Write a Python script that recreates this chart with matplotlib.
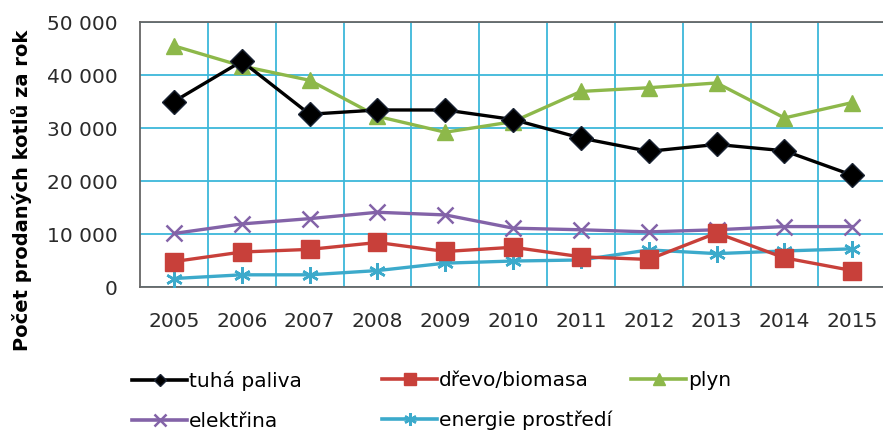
import matplotlib
matplotlib.use("Agg")
import matplotlib.pyplot as plt
from matplotlib.lines import Line2D
from matplotlib.ticker import FuncFormatter

plt.rcParams['font.family'] = ['DejaVu Sans']

# roky a prodeje kotlů podle druhu paliva
years = ['2005', '2006', '2007', '2008', '2009', '2010', '2011', '2012', '2013', '2014', '2015']
tuha_paliva = [35000, 42600, 32600, 33400, 33400, 31600, 28100, 25600, 26900, 25700, 21100]
drevo_biomasa = [4800, 6600, 7100, 8400, 6700, 7500, 5700, 5200, 10200, 5500, 3100]
plyn = [45500, 41700, 39000, 32200, 29200, 31200, 36900, 37600, 38500, 31900, 34800]
elektrina = [10100, 11900, 12900, 14100, 13600, 11100, 10800, 10400, 10800, 11400, 11400]
energie_prostredi = [1600, 2300, 2300, 3100, 4500, 4900, 5100, 7000, 6300, 6800, 7200]

series = [
    ('tuhá paliva', tuha_paliva, 'black', 'D', 12, 6),
    ('dřevo/biomasa', drevo_biomasa, '#C8403A', 's', 12.5, 9),
    ('plyn', plyn, '#8DB84A', '^', 12, 8),
    ('elektřina', elektrina, '#8363A8', 'x', 12, 9),
    ('energie prostředí', energie_prostredi, '#3CAACB', (6, 2, 0), 12, 9),
]

fig = plt.figure(figsize=(8.83, 4.34), dpi=100)
ax = fig.add_axes([0.1586, 0.3387, 0.845, 0.6106])

x = range(len(years))
proxies = []
for i, (name, vals, col, mk, ms, lms) in enumerate(series):
    mew = 1.8 if mk in ('x', (6, 2, 0)) else 1.0
    mec = '#1a2333' if col == 'black' else col
    ax.plot(x, vals, color=col, lw=2.4, marker=mk, ms=ms, mew=mew, mec=mec,
            zorder=5 - i // 2)
    # menší značky v legendě
    proxies.append(Line2D([], [], color=col, lw=2.6, marker=mk, ms=lms, mew=mew,
                          mec=mec, label=name))

ax.set_xlim(-0.5, len(years) - 0.5)
ax.set_ylim(0, 50000)
ax.set_yticks(range(0, 50001, 10000))
ax.yaxis.set_major_formatter(FuncFormatter(lambda v, p: f"{int(v):,}".replace(',', ' ')))
ax.set_xticks(x)
ax.set_xticklabels(years)
ax.set_xticks([i + 0.5 for i in range(len(years) - 1)], minor=True)

ax.grid(True, which='major', axis='y', color='#3DB8DA', lw=1.3)
ax.grid(True, which='minor', axis='x', color='#3DB8DA', lw=1.3)
ax.set_axisbelow(True)
ax.tick_params(which='both', length=0, labelsize=14.5, colors='#2a2a2a')
ax.tick_params(axis='x', pad=18)
ax.tick_params(axis='y', pad=16)
for s in ax.spines.values():
    s.set_color('#666666')
    s.set_linewidth(1.3)

ax.set_ylabel('Počet prodaných kotlů za rok', fontsize=14, fontweight='bold')
ax.yaxis.set_label_coords(-0.145, 0.365)

# legenda po sloupcích, každý sloupec zvlášť
columns = [(0.150, [proxies[0], proxies[3]]),
           (0.433, [proxies[1], proxies[4]]),
           (0.715, [proxies[2]])]
for xpos, hs in columns:
    fig.legend(handles=hs, labels=[h.get_label() for h in hs], loc='upper left',
               bbox_to_anchor=(xpos, 0.146), frameon=False, fontsize=14.5,
               handlelength=2.7, handletextpad=0.1, labelspacing=1.05,
               borderpad=0, borderaxespad=0)

fig.savefig('out.png', dpi=100)
